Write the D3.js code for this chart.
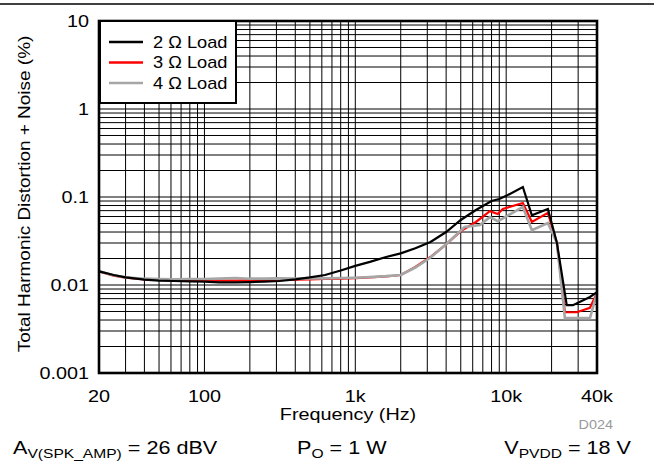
<!DOCTYPE html>
<html><head><meta charset="utf-8">
<script src="https://cdn.jsdelivr.net/npm/d3@7/dist/d3.min.js"></script>
<style>body{margin:0;background:#fff;}svg{display:block;font-family:"Liberation Sans",Arial,sans-serif;}</style>
</head><body>
<svg id="c" width="654" height="464"></svg>
<script>
const freq2 = [20,25,30,40,50,63,80,100,125,160,200,250,315,400,500,630,800,1000,1250,1600,2000,2500,3150,4000,5000,6300,8000,9000,10000,12900,14800,18900,21700,25200,27700,35900,40000];
const thd2  = [0.0143,0.0130,0.0122,0.0115,0.0112,0.0111,0.0110,0.0109,0.0107,0.0107,0.0108,0.0109,0.0111,0.0116,0.0122,0.0130,0.0146,0.0165,0.0183,0.0208,0.0229,0.0262,0.0308,0.0400,0.0548,0.0712,0.090,0.095,0.103,0.130,0.062,0.073,0.030,0.0059,0.0059,0.0073,0.0083];
const freq3 = [20,25,30,40,50,63,80,100,125,160,200,250,315,400,500,630,800,1000,1250,1600,2000,2500,3150,4000,5000,6300,7800,8800,9500,12900,14800,18900,21700,24500,29400,35900,40000];
const thd3  = [0.0143,0.0128,0.0121,0.0116,0.0114,0.0113,0.0112,0.0112,0.0112,0.0112,0.0113,0.0113,0.0114,0.0115,0.0116,0.0117,0.0118,0.0120,0.0122,0.0125,0.0130,0.0160,0.0208,0.029,0.041,0.052,0.069,0.064,0.073,0.0855,0.052,0.066,0.030,0.0049,0.0049,0.0055,0.0081];
const freq4 = [20,25,30,40,50,63,80,100,125,160,200,250,315,400,500,630,800,1000,1250,1600,2000,2500,3150,4000,5300,6700,7800,8800,12900,14800,18900,21700,24500,35900,40000];
const thd4  = [0.0143,0.0129,0.0122,0.0118,0.0117,0.0116,0.0117,0.0117,0.0118,0.0120,0.0118,0.0118,0.0119,0.0118,0.0119,0.0119,0.0120,0.0121,0.0123,0.0126,0.0130,0.0158,0.0205,0.029,0.0456,0.048,0.059,0.053,0.077,0.042,0.0507,0.030,0.0042,0.0042,0.0081];
const seriesNames = ["2 \u03A9 Load","3 \u03A9 Load","4 \u03A9 Load"];
const seriesColors = ["#000000","#ff0000","#a6a6a6"];
const xTicks = [20,100,1000,10000,40000];
const xTickLabels = ["20","100","1k","10k","40k"];
const yTicks = [10,1,0.1,0.01,0.001];
const yTickLabels = ["10","1","0.1","0.01","0.001"];

const svg = d3.select("#c");
const L=99, R=597, T=21, B=373;
const x = d3.scaleLog().domain([20,40000]).range([L,R]);
const y = d3.scaleLog().domain([0.001,10]).range([B,T]);
const SX = 1.2;

function stext(px, py, str, size, anchor, sx, fill){
  const g = svg.append("g").attr("transform",`translate(${px},${py}) scale(${sx||SX},1)`);
  return g.append("text").attr("x",0).attr("y",0).attr("font-size",size)
    .attr("text-anchor",anchor||"start").attr("fill",fill||"#000").text(str);
}

// top rule
svg.append("line").attr("x1",0).attr("x2",654).attr("y1",4).attr("y2",4).attr("stroke","#000").attr("stroke-width",1.6);

// grid
const vgrid=[];
for (let d=10; d<=10000; d*=10) for (let k=1;k<=9;k++){ const v=d*k; if(v>20&&v<40000) vgrid.push(v); }
const hgrid=[];
for (let d=0.001; d<5; d*=10) for (let k=1;k<=9;k++){ const v=d*k; if(v>0.00101&&v<9.99) hgrid.push(v); }
svg.append("g").selectAll("line").data(vgrid).join("line")
  .attr("x1",d=>x(d)).attr("x2",d=>x(d)).attr("y1",T).attr("y2",B).attr("stroke","#000").attr("stroke-width",1);
svg.append("g").selectAll("line").data(hgrid).join("line")
  .attr("y1",d=>y(d)).attr("y2",d=>y(d)).attr("x1",L).attr("x2",R).attr("stroke","#000").attr("stroke-width",1);

// curves
const line = d3.line().x(d=>x(d[0])).y(d=>y(d[1]));
const data = [d3.zip(freq2,thd2), d3.zip(freq3,thd3), d3.zip(freq4,thd4)];
[1,2,0].forEach(i=>{
  svg.append("path").datum(data[i]).attr("d",line).attr("fill","none")
    .attr("stroke",seriesColors[i]).attr("stroke-width",i===2?2.6:2.2).attr("stroke-linejoin","miter");
});

// frame
svg.append("rect").attr("x",L).attr("y",T).attr("width",R-L).attr("height",B-T)
  .attr("fill","none").attr("stroke","#000").attr("stroke-width",2.6);

// legend
svg.append("rect").attr("x",100).attr("y",21).attr("width",136).attr("height",82).attr("fill","#fff").attr("stroke","#000").attr("stroke-width",2);
seriesNames.forEach((n,i)=>{
  const yy = 42 + i*20.5;
  svg.append("line").attr("x1",109).attr("x2",143).attr("y1",yy).attr("y2",yy).attr("stroke",seriesColors[i]).attr("stroke-width",2.6);
  stext(153, yy+5.5, n, 16, "start", 1.14);
});

// axes labels
xTicks.forEach((d,i)=>stext(x(d), 402, xTickLabels[i], 16.5, "middle"));
yTicks.forEach((d,i)=>stext(89, y(d)+6, yTickLabels[i], 16.5, "end"));
stext(348, 420, "Frequency (Hz)", 16.5, "middle");
svg.append("g").attr("transform","translate(30,194) rotate(-90) scale(1.15,1)")
  .append("text").attr("text-anchor","middle").attr("font-size",16.5).text("Total Harmonic Distortion + Noise (%)");
stext(613, 429, "D024", 12, "end", 1.2, "#999");

// conditions
function cond(xp, main, sub, rest, anchor){
  const g = svg.append("g").attr("transform",`translate(${xp},454) scale(${SX},1)`);
  const t = g.append("text").attr("font-size",18).attr("text-anchor",anchor);
  t.append("tspan").text(main);
  t.append("tspan").attr("font-size",13).attr("dy",4).text(sub);
  t.append("tspan").attr("dy",-4).text(rest);
}
cond(13,"A","V(SPK_AMP)"," = 26 dBV","start");
cond(297,"P","O"," = 1 W","start");
cond(631,"V","PVDD"," = 18 V","end");
</script>
</body></html>
